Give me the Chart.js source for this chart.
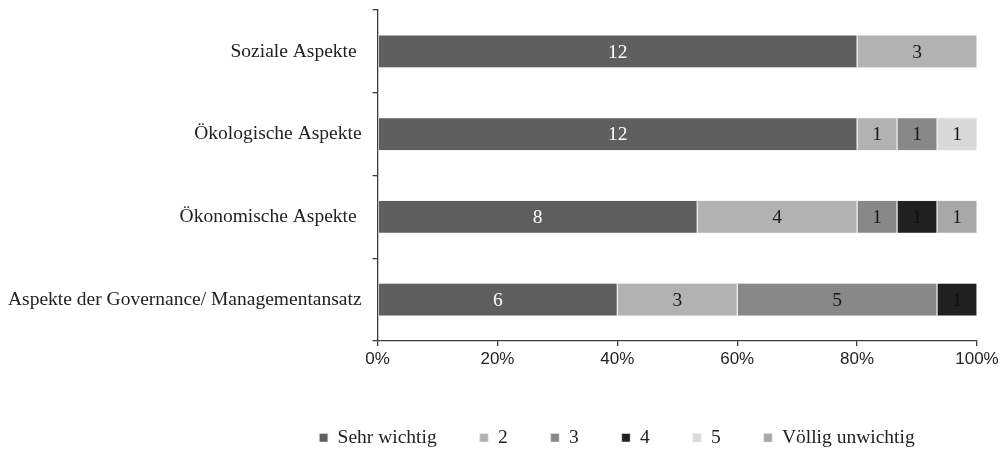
<!DOCTYPE html>
<html>
<head>
<meta charset="utf-8">
<script src="https://cdn.jsdelivr.net/npm/chart.js@4.4.1/dist/chart.umd.min.js"></script>
<style>
  html, body { margin: 0; padding: 0; background: #ffffff; }
  #wrap { width: 1006px; height: 449px; position: relative; }
</style>
</head>
<body>
<div id="wrap"><canvas id="chart" width="1006" height="449"></canvas></div>
<script>
// Categories (trailing spaces are part of the original labels)
const categories = [
  'Soziale Aspekte ',
  'Ökologische Aspekte',
  'Ökonomische Aspekte ',
  'Aspekte der Governance/ Managementansatz'
];

// Number of answers per rating level
const sehrWichtig      = [12, 12, 8, 6];
const stufe2           = [3, 1, 4, 3];
const stufe3           = [0, 1, 1, 5];
const stufe4           = [0, 0, 1, 1];
const stufe5           = [0, 1, 0, 0];
const voelligUnwichtig = [0, 0, 1, 0];

const seriesNames = ['Sehr wichtig', '2', '3', '4', '5', 'Völlig unwichtig'];
const seriesCounts = [sehrWichtig, stufe2, stufe3, stufe4, stufe5, voelligUnwichtig];
const seriesColors = ['#5f5f5f', '#b2b2b2', '#888888', '#202020', '#d9d9d9', '#a8a8a8'];
const labelColors  = ['#ffffff', '#1a1a1a', '#1a1a1a', '#111111', '#1a1a1a', '#1a1a1a'];

const xTicks = [0, 20, 40, 60, 80, 100];

// Totals per category, used to turn counts into shares of 100 %
const totals = categories.map((_, i) => seriesCounts.reduce((s, arr) => s + arr[i], 0));

const datasets = seriesNames.map((name, k) => ({
  label: name,
  counts: seriesCounts[k],
  data: seriesCounts[k].map((v, i) => v / totals[i] * 100),
  backgroundColor: seriesColors[k],
  borderColor: 'rgba(235,235,235,0.9)',
  borderWidth: 0.6,
  borderSkipped: false,
  barPercentage: 0.4,
  categoryPercentage: 1.0
}));

const SERIF = '"Liberation Serif", "Times New Roman", serif';
const SANS = '"Liberation Sans", Arial, sans-serif';

// Writes the count into the middle of every non-empty segment
const segmentLabels = {
  id: 'segmentLabels',
  afterDatasetsDraw(chart) {
    const ctx = chart.ctx;
    ctx.save();
    ctx.font = '19.5px ' + SERIF;
    ctx.textAlign = 'center';
    ctx.textBaseline = 'middle';
    chart.data.datasets.forEach((ds, k) => {
      const meta = chart.getDatasetMeta(k);
      if (meta.hidden) return;
      meta.data.forEach((bar, i) => {
        const n = ds.counts[i];
        if (!n) return;
        const p = bar.getCenterPoint();
        ctx.fillStyle = labelColors[k];
        ctx.fillText(String(n), p.x, p.y + 1);
      });
    });
    ctx.restore();
  }
};

// Gives the legend a fixed band at the bottom and centres it under the plot
const legendBand = {
  id: 'legendBand',
  beforeInit(chart) {
    const fit = chart.legend.fit;
    chart.legend.fit = function () {
      fit.call(this);
      this.height = 64;
    };
  },
  afterLayout(chart) {
    const lg = chart.legend;
    const shift = 130;
    lg.left += shift;
    lg.right += shift;
  }
};

new Chart(document.getElementById('chart'), {
  type: 'bar',
  data: { labels: categories, datasets },
  plugins: [segmentLabels, legendBand],
  options: {
    indexAxis: 'y',
    responsive: false,
    animation: false,
    layout: { padding: { left: -3, right: 29, top: 10, bottom: 0 } },
    scales: {
      x: {
        stacked: true,
        min: 0,
        max: 100,
        afterBuildTicks(scale) { scale.ticks = xTicks.map(v => ({ value: v })); },
        afterFit(scale) { scale.height = 44; },
        border: { display: true, color: '#3c3c3c', width: 1.3 },
        grid: { drawOnChartArea: false, drawTicks: true, tickLength: 5, color: '#3c3c3c', lineWidth: 1.3 },
        ticks: {
          callback: v => v + '%',
          color: '#222222',
          font: { family: SANS, size: 17 },
          padding: 3,
          maxRotation: 0
        }
      },
      y: {
        stacked: true,
        afterFit(scale) { scale.paddingTop = 0; scale.paddingBottom = 0; },
        border: { display: true, color: '#3c3c3c', width: 1.3 },
        grid: { drawOnChartArea: false, drawTicks: true, tickLength: 5, color: '#3c3c3c', lineWidth: 1.3, offset: true },
        ticks: {
          color: '#222222',
          font: { family: SERIF, size: 19.5 },
          padding: 11
        }
      }
    },
    plugins: {
      legend: {
        position: 'bottom',
        labels: {
          color: '#222222',
          font: { family: SERIF, size: 19.5 },
          boxWidth: 8.5,
          boxHeight: 8.5,
          padding: 43
        }
      },
      tooltip: { enabled: false }
    }
  }
});
</script>
</body>
</html>
